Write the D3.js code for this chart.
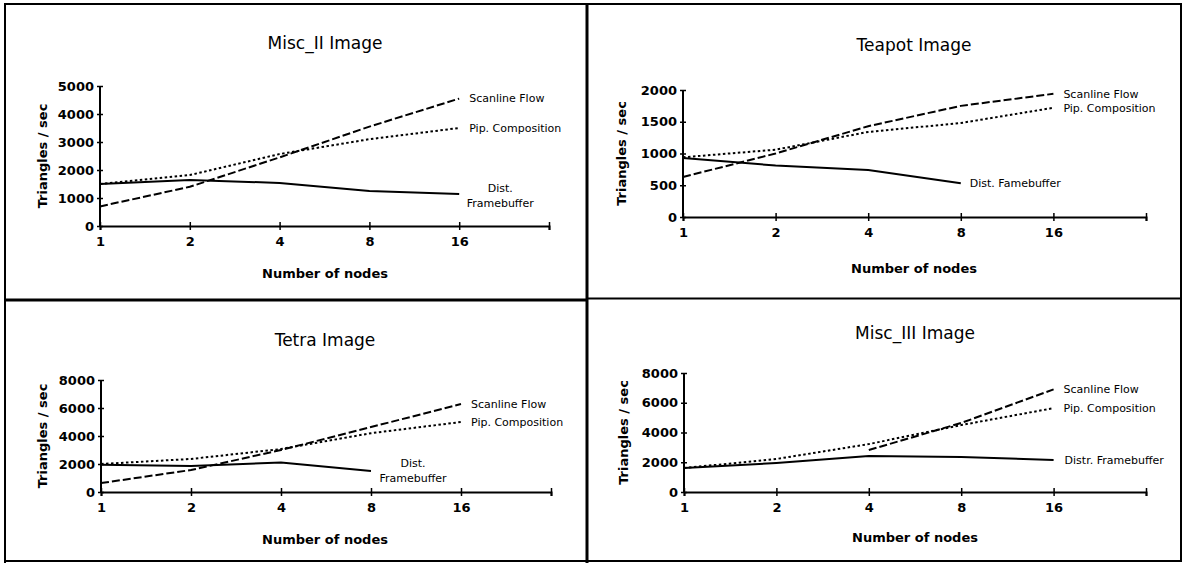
<!DOCTYPE html>
<html>
<head>
<meta charset="utf-8">
<script src="https://cdn.jsdelivr.net/npm/d3@7/dist/d3.min.js"></script>
<style>
    body { margin: 0; background: #fff; }
    svg { display: block; font-family: "DejaVu Sans", sans-serif; }
</style>
</head>
<body>
<div id="chart"></div>
<script>
// x categories (number of nodes), the last slot has no label
var nodes = [1, 2, 4, 8, 16];
var xTickValues = [1, 2, 4, 8, 16, 32];
var xTickLabels = ["1", "2", "4", "8", "16", ""];

var titles = ["Misc_II Image", "Teapot Image", "Tetra Image", "Misc_III Image"];
var seriesNames = ["Scanline Flow", "Pip. Composition", "Dist. Framebuffer"];

// y axis ranges
var yMaxes = [5000, 2000, 8000, 8000];
var ySteps = [1000, 500, 2000, 2000];

// triangles / sec
var misc2Scanline = [700, 1400, 2450, 3550, 4550];
var misc2Pip = [1500, 1820, 2570, 3100, 3500];
var misc2Dist = [1500, 1640, 1540, 1250, 1140];

var teapotScanline = [630, 1000, 1430, 1750, 1940];
var teapotPip = [940, 1060, 1340, 1480, 1720];
var teapotDist = [930, 810, 740, 530, null];

var tetraScanline = [640, 1570, 3000, 4640, 6280];
var tetraPip = [2000, 2360, 3070, 4200, 5000];
var tetraDist = [1950, 1860, 2100, 1500, null];

var misc3Scanline = [null, null, 2820, 4640, 6900];
var misc3Pip = [1610, 2220, 3220, 4500, 5640];
var misc3Dist = [1610, 1950, 2420, 2350, 2150];

// labels next to the line ends
var distLabels = [["Dist.", "Framebuffer"], ["Dist. Famebuffer"], ["Dist.", "Framebuffer"], ["Distr. Framebuffer"]];

var width = 1187, height = 565;

// page layout for each panel
var layout = [
    { left: 100, right: 549, top: 86, bottom: 226, cx: 325, titleY: 43, yLabelX: 42, xLabelY: 273,
      distDx: 41, distAnchor: "middle", distDy: [-6, 9] },
    { left: 683, right: 1146, top: 90, bottom: 217, cx: 914, titleY: 45, yLabelX: 621, xLabelY: 268,
      distDx: 9, distAnchor: "start", distDy: [0] },
    { left: 101, right: 551, top: 380, bottom: 492, cx: 325, titleY: 340, yLabelX: 42, xLabelY: 539,
      distDx: 42, distAnchor: "middle", distDy: [-8, 7] },
    { left: 684, right: 1146, top: 373, bottom: 492, cx: 915, titleY: 333, yLabelX: 623, xLabelY: 537,
      distDx: 11, distAnchor: "start", distDy: [0] }
];

var panels = [
    { series: [misc2Scanline, misc2Pip, misc2Dist] },
    { series: [teapotScanline, teapotPip, teapotDist] },
    { series: [tetraScanline, tetraPip, tetraDist] },
    { series: [misc3Scanline, misc3Pip, misc3Dist] }
];

var dashes = ["8,3", "2.5,2.5", null];

var svg = d3.select("#chart")
    .append("svg")
    .attr("width", width)
    .attr("height", height);

// table frame
var frame = svg.append("g").attr("stroke", "#000").attr("fill", "none");
frame.append("path").attr("d", "M5,4H1182").attr("stroke-width", 2);
frame.append("path").attr("d", "M5,3V563").attr("stroke-width", 2);
frame.append("path").attr("d", "M1181,3V561").attr("stroke-width", 2);
frame.append("path").attr("d", "M5,561H1182").attr("stroke-width", 2);
frame.append("path").attr("d", "M5,300H587").attr("stroke-width", 3);
frame.append("path").attr("d", "M587,298.5H1182").attr("stroke-width", 2);
frame.append("path").attr("d", "M587,3V563").attr("stroke-width", 3);

panels.forEach(function (p, i) {
    var L = layout[i];
    var g = svg.append("g");

    var x = d3.scaleLog().base(2)
        .domain([1, 32])
        .range([L.left, L.right]);

    var y = d3.scaleLinear()
        .domain([0, yMaxes[i]])
        .range([L.bottom, L.top]);

    // X axis, ticks crossing the line
    var xAxis = g.append("g")
        .attr("transform", "translate(0," + L.bottom + ")")
        .call(d3.axisBottom(x)
            .tickValues(xTickValues)
            .tickSize(4)
            .tickPadding(7)
            .tickFormat(function (d, k) { return xTickLabels[k]; }));

    xAxis.select(".domain").attr("stroke-width", 2);
    xAxis.selectAll(".tick line").attr("y1", -4).attr("stroke-width", 1.5);
    xAxis.selectAll("text")
        .style("font-size", "13px")
        .style("font-weight", "bold")
        .style("font-family", "DejaVu Sans")
        .attr("fill", "#000");

    // Y axis
    var yAxis = g.append("g")
        .attr("transform", "translate(" + L.left + ",0)")
        .call(d3.axisLeft(y)
            .tickValues(d3.range(0, yMaxes[i] + 1, ySteps[i]))
            .tickSize(3)
            .tickPadding(3)
            .tickFormat(d3.format("d")));

    yAxis.select(".domain").attr("stroke-width", 2).attr("d", "M0," + L.bottom + "V" + L.top);
    yAxis.selectAll(".tick line").attr("x1", 3).attr("stroke-width", 1.5);
    yAxis.selectAll("text")
        .style("font-size", "13px")
        .style("font-weight", "bold")
        .style("font-family", "DejaVu Sans")
        .attr("fill", "#000");

    // title
    g.append("text")
        .attr("x", L.cx)
        .attr("y", L.titleY)
        .attr("dy", "0.35em")
        .attr("text-anchor", "middle")
        .style("font-size", "17px")
        .text(titles[i]);

    // axis labels
    g.append("text")
        .attr("transform", "translate(" + L.yLabelX + "," + ((L.top + L.bottom) / 2) + ") rotate(-90)")
        .attr("dy", "0.35em")
        .attr("text-anchor", "middle")
        .style("font-size", "13px")
        .style("font-weight", "bold")
        .text("Triangles / sec");

    g.append("text")
        .attr("x", L.cx)
        .attr("y", L.xLabelY)
        .attr("dy", "0.35em")
        .attr("text-anchor", "middle")
        .style("font-size", "13px")
        .style("font-weight", "bold")
        .text("Number of nodes");

    var line = d3.line()
        .defined(function (d) { return d.v != null; })
        .x(function (d) { return x(d.n); })
        .y(function (d) { return y(d.v); });

    p.series.forEach(function (vals, s) {
        var pts = nodes.map(function (n, k) { return { n: n, v: vals[k] }; });

        g.append("path")
            .datum(pts)
            .attr("fill", "none")
            .attr("stroke", "#000")
            .attr("stroke-width", 2)
            .attr("stroke-dasharray", dashes[s])
            .attr("d", line);

        var last = pts.filter(function (d) { return d.v != null; }).pop();
        var lx = x(last.n), ly = y(last.v);

        if (s < 2) {
            g.append("text")
                .attr("x", lx + 10)
                .attr("y", ly)
                .attr("dy", "0.35em")
                .style("font-size", "11px")
                .text(seriesNames[s]);
        } else {
            distLabels[i].forEach(function (t, k) {
                g.append("text")
                    .attr("x", lx + L.distDx)
                    .attr("y", ly + L.distDy[k])
                    .attr("dy", "0.35em")
                    .attr("text-anchor", L.distAnchor)
                    .style("font-size", "11px")
                    .text(t);
            });
        }
    });
});
</script>
</body>
</html>
